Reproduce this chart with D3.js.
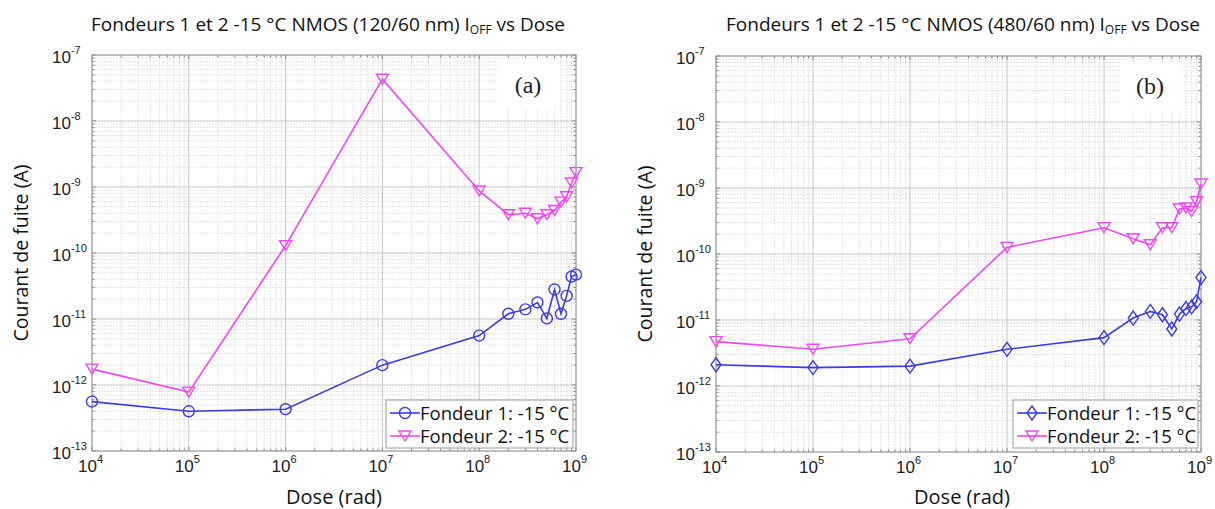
<!DOCTYPE html>
<html><head><meta charset="utf-8">
<script src="https://cdn.jsdelivr.net/npm/d3@7"></script>
<style>body{margin:0;background:#fff}svg{display:block}</style>
</head><body>
<svg id="c" width="1215" height="509"></svg>
<script>
const doses = [1e4,1e5,1e6,1e7,1e8,2e8,3e8,4e8,5e8,6e8,7e8,8e8,9e8,1e9];
const leftF1 = [5.6e-13,4.0e-13,4.3e-13,2.0e-12,5.6e-12,1.2e-11,1.4e-11,1.78e-11,1.02e-11,2.8e-11,1.2e-11,2.24e-11,4.4e-11,4.7e-11];
const leftF2 = [1.74e-12,7.8e-13,1.29e-10,4.3e-8,8.7e-10,3.8e-10,4.0e-10,3.3e-10,3.8e-10,4.4e-10,5.9e-10,7.1e-10,1.15e-9,1.65e-9];
const rightF1 = [2.1e-12,1.9e-12,2.0e-12,3.6e-12,5.4e-12,1.07e-11,1.35e-11,1.2e-11,7.3e-12,1.23e-11,1.49e-11,1.58e-11,1.9e-11,4.4e-11];
const rightF2 = [4.7e-12,3.6e-12,5.2e-12,1.26e-10,2.5e-10,1.7e-10,1.38e-10,2.5e-10,2.5e-10,4.8e-10,5.0e-10,4.4e-10,6.2e-10,1.15e-9];
const xTickExp = [4,5,6,7,8,9];
const yTickExp = [-13,-12,-11,-10,-9,-8,-7];
const titleLeft = ["Fondeurs 1 et 2 -15 °C NMOS (120/60 nm) I", "OFF", " vs Dose"];
const titleRight = ["Fondeurs 1 et 2 -15 °C NMOS (480/60 nm) I", "OFF", " vs Dose"];
const legendLabels = ["Fondeur 1: -15 °C", "Fondeur 2: -15 °C"];
const panelTags = ["(a)", "(b)"];

const BLUE = "#3c3ce0", MAG = "#f048f0";
const svg = d3.select("#c");

function panel(opt){
  const g = svg.append("g");
  const x = d3.scaleLog().domain([1e4,1e9]).range([opt.x0, opt.x1]);
  const y = d3.scaleLog().domain([1e-13,1e-7]).range([opt.y0, opt.y1]);
  const minorX = [], minorY = [];
  for (let e=4;e<9;e++) for (let k=2;k<=9;k++) minorX.push(k*Math.pow(10,e));
  for (let e=-13;e<-7;e++) for (let k=2;k<=9;k++) minorY.push(k*Math.pow(10,e));
  g.selectAll(".mx").data(minorX).join("line")
    .attr("x1",d=>x(d)).attr("x2",d=>x(d)).attr("y1",opt.y0).attr("y2",opt.y1)
    .attr("stroke","#e3e3e3").attr("stroke-width",1).attr("stroke-dasharray","2,1");
  g.selectAll(".my").data(minorY).join("line")
    .attr("y1",d=>y(d)).attr("y2",d=>y(d)).attr("x1",opt.x0).attr("x2",opt.x1)
    .attr("stroke","#e3e3e3").attr("stroke-width",1).attr("stroke-dasharray","2,1");
  g.selectAll(".Mx").data(xTickExp).join("line")
    .attr("x1",d=>x(Math.pow(10,d))).attr("x2",d=>x(Math.pow(10,d))).attr("y1",opt.y0).attr("y2",opt.y1)
    .attr("stroke","#c8c8c8").attr("stroke-width",1);
  g.selectAll(".My").data(yTickExp).join("line")
    .attr("y1",d=>y(Math.pow(10,d))).attr("y2",d=>y(Math.pow(10,d))).attr("x1",opt.x0).attr("x2",opt.x1)
    .attr("stroke","#c8c8c8").attr("stroke-width",1);
  const tl = 4, tm = 2.5;
  [opt.y0, opt.y1].forEach((yy,i)=>{
    const s = i===0?-1:1;
    g.selectAll(null).data(minorX).join("line").attr("x1",d=>x(d)).attr("x2",d=>x(d))
      .attr("y1",yy).attr("y2",yy+s*tm).attr("stroke","#888");
    g.selectAll(null).data(xTickExp).join("line").attr("x1",d=>x(Math.pow(10,d))).attr("x2",d=>x(Math.pow(10,d)))
      .attr("y1",yy).attr("y2",yy+s*tl).attr("stroke","#888");
  });
  [opt.x0, opt.x1].forEach((xx,i)=>{
    const s = i===0?1:-1;
    g.selectAll(null).data(minorY).join("line").attr("y1",d=>y(d)).attr("y2",d=>y(d))
      .attr("x1",xx).attr("x2",xx+s*tm).attr("stroke","#888");
    g.selectAll(null).data(yTickExp).join("line").attr("y1",d=>y(Math.pow(10,d))).attr("y2",d=>y(Math.pow(10,d)))
      .attr("x1",xx).attr("x2",xx+s*tl).attr("stroke","#888");
  });
  g.append("rect").attr("x",opt.x0).attr("y",opt.y1).attr("width",opt.x1-opt.x0).attr("height",opt.y0-opt.y1)
    .attr("fill","none").attr("stroke","#9a9a9a").attr("stroke-width",1);
  g.append("rect").attr("x",opt.tagX-30).attr("y",opt.y1+6).attr("width",62).attr("height",48).attr("fill","#fff");
  g.append("text").attr("x",opt.tagX).attr("y",opt.y1+38).attr("text-anchor","middle")
    .attr("font-family","Liberation Serif").attr("font-size",24).attr("fill","#222").text(opt.tag);
  const yl = g.selectAll(".yl").data(yTickExp).join("text")
    .attr("x",opt.x0-40).attr("y",d=>y(Math.pow(10,d))+8)
    .attr("font-family","Liberation Sans").attr("font-size",17).attr("fill","#222");
  yl.append("tspan").text("10");
  yl.append("tspan").attr("dy",-9).attr("font-size",11).text(d=>String(d));
  const xl = g.selectAll(".xl").data(xTickExp).join("text")
    .attr("x",d=>x(Math.pow(10,d))-14).attr("y",opt.y0+21)
    .attr("font-family","Liberation Sans").attr("font-size",17).attr("fill","#222");
  xl.append("tspan").text("10");
  xl.append("tspan").attr("dy",-9).attr("font-size",11).text(d=>d);
  g.append("text").attr("x",opt.doseX).attr("y",504).attr("text-anchor","middle")
    .attr("font-family","Open Sans").attr("font-size",20).attr("fill","#111").text("Dose (rad)");
  g.append("text").attr("transform",`translate(${opt.ylabX},${(opt.y0+opt.y1)/2}) rotate(-90)`)
    .attr("text-anchor","middle").attr("font-family","Open Sans").attr("font-size",19.5).attr("fill","#111")
    .text("Courant de fuite (A)");
  const t = g.append("text").attr("x",opt.titleX).attr("y",31).attr("text-anchor","middle")
    .attr("font-family","Open Sans").attr("font-size",19).attr("fill","#111");
  t.append("tspan").text(opt.title[0]);
  t.append("tspan").attr("font-size",12).attr("dy",3).text(opt.title[1]);
  t.append("tspan").attr("dy",-3).text(opt.title[2]);
  const line = d3.line().x(d=>x(d[0])).y(d=>y(d[1]));
  const series = [
    {vals: opt.f1, color: BLUE, marker: opt.m1},
    {vals: opt.f2, color: MAG, marker: "tri"}
  ];
  function markerPath(type){
    if (type==="circle") return d3.symbol(d3.symbolCircle, 95)();
    if (type==="diamond") return "M0,-7L5,0L0,7L-5,0Z";
    return "M-6,-5L6,-5L0,5Z";
  }
  series.forEach(s=>{
    const pts = doses.map((d,i)=>[d,s.vals[i]]);
    g.append("path").attr("d",line(pts)).attr("fill","none").attr("stroke",s.color).attr("stroke-width",1.6);
    g.selectAll(null).data(pts).join("path")
      .attr("transform",d=>`translate(${x(d[0])},${y(d[1])})`)
      .attr("d",markerPath(s.marker)).attr("fill","none").attr("stroke",s.color).attr("stroke-width",1.4);
  });
  const lg = g.append("g");
  lg.append("rect").attr("x",opt.legX).attr("y",400).attr("width",opt.x1-3-opt.legX).attr("height",48)
    .attr("fill","#fff").attr("stroke","#9a9a9a");
  series.forEach((s,i)=>{
    const yy = 413 + i*23;
    lg.append("line").attr("x1",opt.legX+4).attr("x2",opt.legX+34).attr("y1",yy).attr("y2",yy)
      .attr("stroke",s.color).attr("stroke-width",1.6);
    lg.append("path").attr("transform",`translate(${opt.legX+19},${yy})`).attr("d",markerPath(s.marker))
      .attr("fill","none").attr("stroke",s.color).attr("stroke-width",1.4);
    lg.append("text").attr("x",opt.legX+34).attr("y",yy+7).attr("font-family","Open Sans").attr("font-size",18.5)
      .attr("fill","#111").text(legendLabels[i]);
  });
}

panel({x0:92,x1:576,y0:451,y1:55,f1:leftF1,f2:leftF2,m1:"circle",tag:panelTags[0],tagX:528,
  legX:386,ylabX:28,titleX:328,title:titleLeft,doseX:334});
panel({x0:716,x1:1201,y0:452,y1:56,f1:rightF1,f2:rightF2,m1:"diamond",tag:panelTags[1],tagX:1150,
  legX:1013,ylabX:652,titleX:963,title:titleRight,doseX:962});
</script>
</body></html>
